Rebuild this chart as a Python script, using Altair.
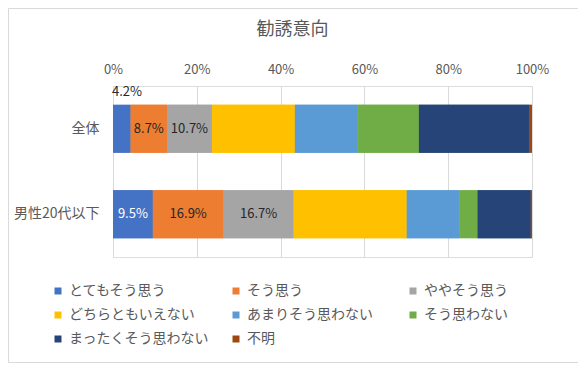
import altair as alt
import pandas as pd

categories = ["全体", "男性20代以下"]
responses = ["とてもそう思う", "そう思う", "ややそう思う", "どちらともいえない",
             "あまりそう思わない", "そう思わない", "まったくそう思わない", "不明"]
values_all = [4.2, 8.7, 10.7, 19.8, 14.9, 14.7, 26.4, 0.6]
values_m20 = [9.5, 16.9, 16.7, 27.0, 12.6, 4.3, 12.7, 0.3]
labels_all = ["4.2%", "8.7%", "10.7%", "", "", "", "", ""]
labels_m20 = ["9.5%", "16.9%", "16.7%", "", "", "", "", ""]
label_pos_all = ["above", "inside", "inside", "", "", "", "", ""]
label_pos_m20 = ["inside", "inside", "inside", "", "", "", "", ""]
label_color_all = ["black", "black", "black", "", "", "", "", ""]
label_color_m20 = ["white", "black", "black", "", "", "", "", ""]
colors = ["#4472C4", "#ED7D31", "#A5A5A5", "#FFC000",
          "#5B9BD5", "#70AD47", "#264478", "#9E480E"]
x_ticks = [0, 20, 40, 60, 80, 100]
# legend is laid out row by row in 3 columns
legend_columns = [[0, 3, 6], [1, 4, 7], [2, 5]]
legend_x = [-62, 116, 293]

rows = []
for cat, vals, labs, poss, cols in [
    (categories[0], values_all, labels_all, label_pos_all, label_color_all),
    (categories[1], values_m20, labels_m20, label_pos_m20, label_color_m20),
]:
    for i, (r, v, l, p, c) in enumerate(zip(responses, vals, labs, poss, cols)):
        rows.append({"cat": cat, "resp": r, "idx": i, "value": v,
                     "label": l, "pos": p, "tcol": c})
df = pd.DataFrame(rows)

FONT = "Noto Sans CJK JP"
GRAY = "#595959"

base = alt.Chart(df).transform_stack(
    stack="value", groupby=["cat"], sort=[alt.SortField("idx", order="ascending")],
    as_=["v0", "v1"]
).transform_calculate(mid="(datum.v0 + datum.v1) / 2")

yenc = alt.Y("cat:N", sort=categories, title=None,
             scale=alt.Scale(paddingInner=0.44, paddingOuter=0.22),
             axis=alt.Axis(domain=False, ticks=False, labelFontSize=14,
                           labelColor=GRAY, labelFont=FONT, labelPadding=14))

xscale = alt.Scale(domain=[0, 100], nice=False)
xaxis = alt.Axis(orient="top", values=x_ticks, labelExpr="datum.value + '%'",
                 domain=False, ticks=False, grid=True, gridColor="#D9D9D9",
                 labelFontSize=13, labelColor=GRAY, labelFont=FONT,
                 labelPadding=10, labelFlush=False)

# legend layers (drawn underneath the main bars, one legend per column)
legend_layers = []
for k, idxs in enumerate(legend_columns):
    legend_layers.append(
        base.transform_filter(alt.FieldOneOfPredicate(field="idx", oneOf=idxs))
        .mark_bar()
        .encode(
            x=alt.X("v0:Q", scale=xscale, title=None, axis=xaxis),
            x2="v1:Q",
            y=yenc,
            color=alt.Color(
                "resp:N",
                scale=alt.Scale(domain=[responses[i] for i in idxs],
                                range=[colors[i] for i in idxs]),
                legend=alt.Legend(title=None, orient="none", legendX=legend_x[k],
                                  legendY=198, direction="vertical",
                                  symbolType="square", symbolSize=49,
                                  symbolStrokeWidth=0, labelFontSize=14,
                                  labelFont=FONT, labelColor=GRAY, labelOffset=4,
                                  rowPadding=10, labelLimit=300),
            ),
        )
    )

bars = base.mark_bar().encode(
    x=alt.X("v0:Q", scale=xscale, title=None, axis=xaxis),
    x2="v1:Q",
    y=yenc,
    color=alt.Color("resp:N", scale=alt.Scale(domain=responses, range=colors),
                    legend=None),
)

inside_black = base.transform_filter(
    "datum.pos == 'inside' && datum.tcol == 'black'"
).mark_text(font=FONT, fontSize=13, color="#262626").encode(
    x=alt.X("mid:Q", scale=xscale), y=alt.Y("cat:N", sort=categories), text="label:N")

inside_white = base.transform_filter(
    "datum.pos == 'inside' && datum.tcol == 'white'"
).mark_text(font=FONT, fontSize=13, color="white").encode(
    x=alt.X("mid:Q", scale=xscale), y=alt.Y("cat:N", sort=categories), text="label:N")

above = base.transform_filter("datum.pos == 'above'").mark_text(
    font=FONT, fontSize=13, color="#262626", align="left", dx=-1, dy=-37
).encode(x=alt.X("v0:Q", scale=xscale), y=alt.Y("cat:N", sort=categories), text="label:N")

frame = alt.Chart(alt.Data(values=[{}])).mark_rect(
    fill=None, stroke="#D9D9D9", strokeWidth=1
).encode(x=alt.value(-104.5), x2=alt.value(466.5), y=alt.value(-77.5), y2=alt.value(276.5))

chart = alt.layer(frame, *legend_layers, bars, inside_black, inside_white, above).properties(
    width=419, height=171,
    title=alt.TitleParams("勧誘意向", font=FONT, fontSize=18, fontWeight="normal",
                          color=GRAY, anchor="middle", dx=-30, offset=-31),
    autosize=alt.AutoSizeParams(type="none"),
    padding={"left": 105, "top": 78, "right": 46, "bottom": 106},
).resolve_scale(color="independent").configure_view(stroke=None).configure(background="white")

chart.save("out.html", embed_options={"renderer": "svg", "actions": False})
